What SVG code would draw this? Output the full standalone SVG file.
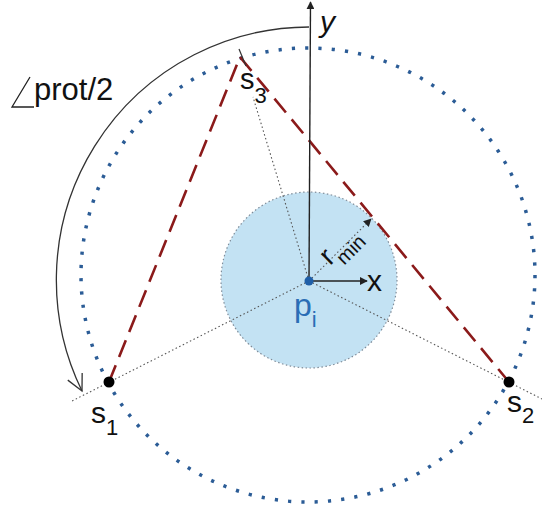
<svg xmlns="http://www.w3.org/2000/svg" width="542" height="508" viewBox="0 0 542 508">
<style>
.lbl{font-family:"Liberation Sans",Arial,sans-serif;fill:#111}
.radial{stroke:#555;stroke-width:1.1;stroke-dasharray:1.5 2.5;fill:none}
.dash{stroke:#8B1A1A;stroke-width:2.6;stroke-dasharray:18 9;fill:none}
.axis{stroke:#222;stroke-width:1.4;fill:none}
</style>
<defs>
<marker id="tri" viewBox="0 0 10 10" refX="9" refY="5" markerWidth="8" markerHeight="8" markerUnits="userSpaceOnUse" orient="auto">
<path d="M0,0 L10,5 L0,10 Z" fill="#222"/>
</marker>
<marker id="open" viewBox="0 0 20 20" refX="18" refY="10" markerWidth="20" markerHeight="20" markerUnits="userSpaceOnUse" orient="auto">
<path d="M2,2 L18,10 L2,18" fill="none" stroke="#333" stroke-width="1.3"/>
</marker>
</defs>
<rect width="542" height="508" fill="#fff"/>
<g id="inner-circle">
<circle cx="309" cy="280" r="88" fill="#C3E2F3" stroke="#7f8c99" stroke-width="1.2" stroke-dasharray="1.5 2.5"/>
</g>
<g id="outer-circle">
<circle cx="308" cy="275" r="227" fill="none" stroke="#2B5C96" stroke-width="3.5" stroke-dasharray="3.2 10.13"/>
</g>
<g id="connectors">
<line class="radial" x1="309" y1="281" x2="70" y2="402"/>
<line class="radial" x1="309" y1="281" x2="542" y2="399"/>
<line class="radial" x1="309" y1="281" x2="253" y2="97"/>
<line class="radial" x1="309" y1="281" x2="371" y2="219" marker-end="url(#tri)"/>
<line class="dash" x1="109" y1="382" x2="240" y2="57"/>
<line class="dash" x1="240" y1="57" x2="509" y2="382"/>
<line class="axis" x1="309" y1="281" x2="310.5" y2="2" marker-end="url(#tri)"/>
<line class="axis" x1="309" y1="281" x2="367" y2="281" marker-end="url(#tri)"/>
<path d="M309,27 A253,253 0 0 0 82,391" fill="none" stroke="#333" stroke-width="1.3" marker-end="url(#open)"/>
<line x1="239" y1="49" x2="246" y2="66" stroke="#333" stroke-width="1.2"/>
</g>
<g id="s1">
<circle cx="109" cy="382" r="5.5" fill="#000"/>
<text class="lbl" x="91" y="423" font-size="30">s<tspan font-size="22" dy="12">1</tspan></text>
</g>
<g id="s2">
<circle cx="509" cy="382" r="5.5" fill="#000"/>
<text class="lbl" x="507" y="412" font-size="30">s<tspan font-size="22" dy="11">2</tspan></text>
</g>
<g id="s3">
<text class="lbl" x="240" y="89" font-size="29">s<tspan font-size="22" dy="14">3</tspan></text>
</g>
<g id="p_i">
<circle cx="309" cy="281" r="4.5" fill="#1F5FA8"/>
<text class="lbl" x="294" y="316" font-size="32" style="fill:#2A6DB5">p<tspan font-size="22" dy="11">i</tspan></text>
</g>
<g id="axes-labels">
<text class="lbl" x="320" y="32" font-size="30" font-style="italic">y</text>
<text class="lbl" x="367" y="291" font-size="30">x</text>
<text class="lbl" transform="translate(330,266) rotate(-45)" font-size="28">r<tspan font-size="20" dx="1" dy="10">min</tspan></text>
</g>
<g id="angle-label">
<polyline points="30,77 12,107 34,107" fill="none" stroke="#222" stroke-width="1.3"/>
<text class="lbl" x="34" y="100" font-size="31">prot/2</text>
</g>
</svg>
